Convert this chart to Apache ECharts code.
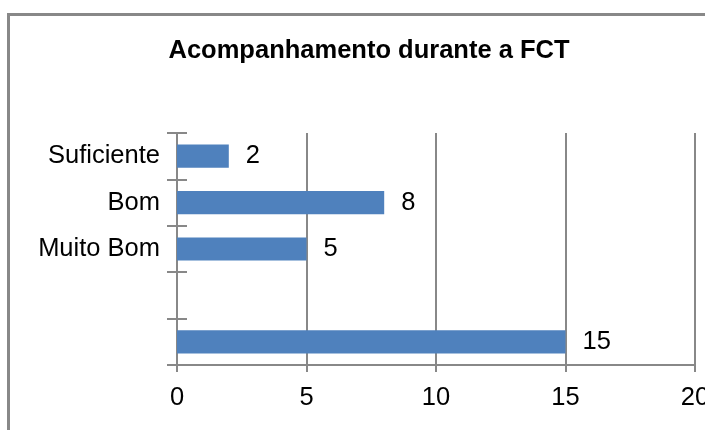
<!DOCTYPE html>
<html>
<head>
<meta charset="utf-8">
<script src="https://cdn.jsdelivr.net/npm/echarts@6/dist/echarts.min.js"></script>
<style>
  html, body { margin: 0; padding: 0; background: #fff; }
  #chart { width: 705px; height: 430px; }
</style>
</head>
<body>
<div id="chart"></div>
<script>
// categories bottom -> top (category axis on y runs upward)
var categories = ['', ' ', 'Muito Bom', 'Bom', 'Suficiente'];
var values = [15, null, 5, 8, 2];
var xTicks = [0, 5, 10, 15, 20];

var font = '"Liberation Sans", Arial, sans-serif';
var gray = '#888';

var myChart = echarts.init(document.getElementById('chart'));
myChart.setOption({
  animation: false,
  title: {
    text: 'Acompanhamento durante a FCT',
    left: 364,
    textAlign: 'center',
    top: 33,
    textStyle: { fontFamily: font, fontSize: 25.5, fontWeight: 'bold', color: '#000' }
  },
  graphic: [{
    type: 'rect',
    shape: { x: 8.5, y: 14.5, width: 800, height: 500 },
    style: { fill: 'none', stroke: gray, lineWidth: 3 }
  }],
  grid: { left: 177, right: 10, top: 133, bottom: 65, containLabel: false, outerBoundsMode: 'none' },
  xAxis: {
    type: 'value',
    min: xTicks[0],
    max: xTicks[xTicks.length - 1],
    interval: 5,
    axisLine: { show: true, lineStyle: { color: gray, width: 2 } },
    axisTick: { show: true, length: 7, lineStyle: { color: gray, width: 2 } },
    splitLine: { show: true, lineStyle: { color: gray, width: 2 } },
    axisLabel: { margin: 20, fontFamily: font, fontSize: 25.5, color: '#000', hideOverlap: false }
  },
  yAxis: [{
    type: 'category',
    data: categories,
    axisLine: { show: true, lineStyle: { color: gray, width: 2 } },
    axisTick: { show: true, length: 10, lineStyle: { color: gray, width: 2 } },
    axisLabel: { margin: 17, fontFamily: font, fontSize: 25.5, color: '#000' }
  }, {
    type: 'category',
    data: categories,
    position: 'left',
    axisLine: { show: false },
    axisTick: { show: true, inside: true, length: 10, lineStyle: { color: gray, width: 2 } },
    axisLabel: { show: false }
  }],
  series: [{
    type: 'bar',
    yAxisIndex: 0,
    data: values,
    barWidth: '50%',
    itemStyle: { color: '#4F81BD' },
    label: {
      show: true,
      position: 'right',
      distance: 17,
      fontFamily: font,
      fontSize: 25.5,
      color: '#000'
    }
  }]
});
</script>
</body>
</html>
